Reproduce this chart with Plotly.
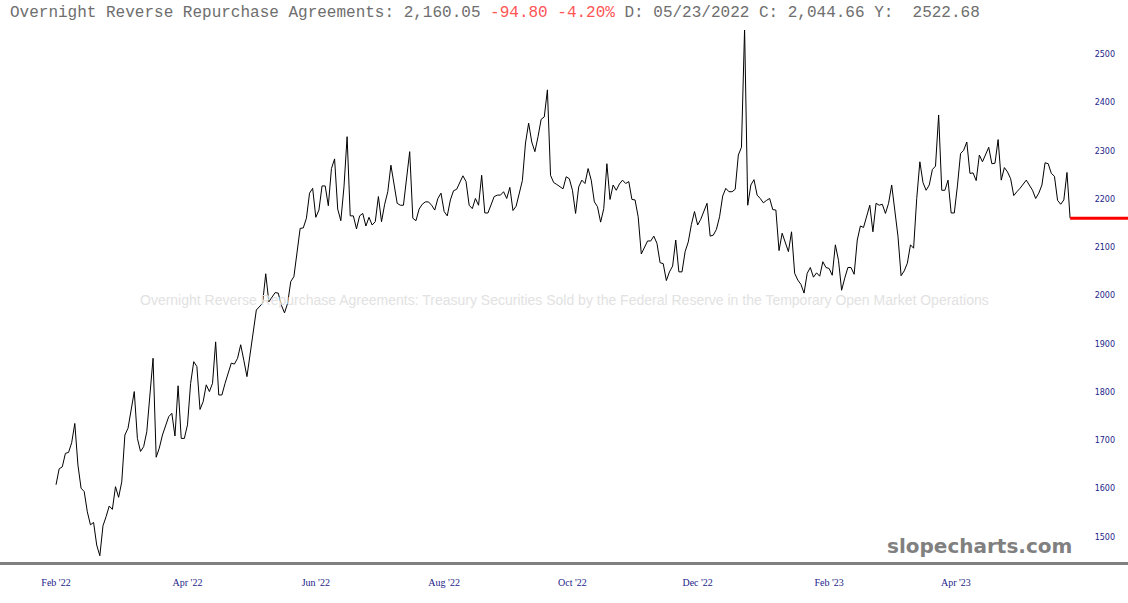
import plotly.graph_objects as go

# ---------------- data ----------------
dates = [
    "2022-02-15","2022-02-16","2022-02-17","2022-02-18","2022-02-22","2022-02-23","2022-02-24","2022-02-25","2022-02-28",
    "2022-03-01","2022-03-02","2022-03-03","2022-03-04","2022-03-07","2022-03-08","2022-03-09","2022-03-10","2022-03-11",
    "2022-03-14","2022-03-15","2022-03-16","2022-03-17","2022-03-18","2022-03-21","2022-03-23","2022-03-24","2022-03-25",
    "2022-03-28","2022-03-29","2022-03-31",
    "2022-04-01","2022-04-04","2022-04-05","2022-04-06","2022-04-07","2022-04-08","2022-04-11","2022-04-12","2022-04-13",
    "2022-04-14","2022-04-18","2022-04-19","2022-04-20","2022-04-21","2022-04-22","2022-04-25","2022-04-26","2022-04-27",
    "2022-04-28","2022-04-29",
    "2022-05-02","2022-05-03","2022-05-04","2022-05-06","2022-05-09","2022-05-10","2022-05-11","2022-05-12","2022-05-13",
    "2022-05-18","2022-05-20","2022-05-23","2022-05-24","2022-05-26","2022-05-27","2022-05-31",
    "2022-06-01","2022-06-02","2022-06-03","2022-06-06","2022-06-08","2022-06-09","2022-06-10","2022-06-13","2022-06-14",
    "2022-06-15","2022-06-16","2022-06-17","2022-06-21","2022-06-22","2022-06-23","2022-06-24","2022-06-27","2022-06-28",
    "2022-06-29","2022-06-30",
    "2022-07-01","2022-07-05","2022-07-06","2022-07-07","2022-07-08","2022-07-11","2022-07-12","2022-07-13","2022-07-14",
    "2022-07-15","2022-07-18","2022-07-19","2022-07-20","2022-07-21","2022-07-25","2022-07-26","2022-07-27","2022-07-29",
    "2022-08-01","2022-08-02","2022-08-03","2022-08-04","2022-08-05","2022-08-08","2022-08-09","2022-08-10","2022-08-11",
    "2022-08-12","2022-08-15","2022-08-16","2022-08-17","2022-08-18","2022-08-19","2022-08-23","2022-08-24","2022-08-25",
    "2022-08-26","2022-08-29","2022-08-30","2022-08-31",
    "2022-09-01","2022-09-02","2022-09-07","2022-09-08","2022-09-09","2022-09-12","2022-09-13","2022-09-14","2022-09-15",
    "2022-09-16","2022-09-20","2022-09-21","2022-09-22","2022-09-23","2022-09-26","2022-09-27","2022-09-28","2022-09-29",
    "2022-09-30",
    "2022-10-03","2022-10-04","2022-10-05","2022-10-06","2022-10-07","2022-10-10","2022-10-11","2022-10-12","2022-10-13",
    "2022-10-14","2022-10-17","2022-10-18","2022-10-19","2022-10-20","2022-10-21","2022-10-24","2022-10-25","2022-10-26",
    "2022-10-27","2022-10-28","2022-10-31",
    "2022-11-01","2022-11-02","2022-11-03","2022-11-04","2022-11-07","2022-11-08","2022-11-09","2022-11-10","2022-11-11",
    "2022-11-14","2022-11-15","2022-11-16","2022-11-17","2022-11-18","2022-11-21","2022-11-22","2022-11-23","2022-11-25",
    "2022-11-28","2022-11-29","2022-11-30",
    "2022-12-01","2022-12-02","2022-12-05","2022-12-06","2022-12-07","2022-12-08","2022-12-09","2022-12-12","2022-12-13",
    "2022-12-14","2022-12-15","2022-12-16","2022-12-19","2022-12-20","2022-12-21","2022-12-22","2022-12-23","2022-12-27",
    "2022-12-28","2022-12-29","2022-12-30",
    "2023-01-03","2023-01-04","2023-01-05","2023-01-06","2023-01-09","2023-01-10","2023-01-11","2023-01-12","2023-01-13",
    "2023-01-17","2023-01-18","2023-01-19","2023-01-23","2023-01-24","2023-01-25","2023-01-26","2023-01-27","2023-01-30",
    "2023-01-31",
    "2023-02-01","2023-02-02","2023-02-03","2023-02-06","2023-02-07","2023-02-08","2023-02-09","2023-02-10","2023-02-13",
    "2023-02-14","2023-02-15","2023-02-16","2023-02-17","2023-02-21","2023-02-22","2023-02-23","2023-02-24","2023-02-27",
    "2023-02-28",
    "2023-03-01","2023-03-02","2023-03-03","2023-03-06","2023-03-07","2023-03-08","2023-03-09","2023-03-10","2023-03-13",
    "2023-03-14","2023-03-15","2023-03-16","2023-03-17","2023-03-20","2023-03-21","2023-03-22","2023-03-23","2023-03-24",
    "2023-03-27","2023-03-28","2023-03-29","2023-03-30","2023-03-31",
    "2023-04-03","2023-04-04","2023-04-05","2023-04-06","2023-04-10","2023-04-11","2023-04-12","2023-04-13","2023-04-14",
    "2023-04-17","2023-04-18","2023-04-19","2023-04-20","2023-04-21","2023-04-25","2023-04-26","2023-04-27","2023-04-28",
    "2023-05-01","2023-05-02","2023-05-03","2023-05-04","2023-05-05","2023-05-08","2023-05-09","2023-05-11","2023-05-12",
    "2023-05-15","2023-05-16","2023-05-17","2023-05-18","2023-05-19","2023-05-22","2023-05-23","2023-05-24","2023-05-25",
    "2023-05-26","2023-05-30","2023-05-31","2023-06-01",
]

values = [
    1608,1641,1645,1673,1675,1695,1735,1649,1601,
    1594,1552,1525,1530,1483,1461,1523,1542,1564,
    1557,1604,1582,1614,1711,1725,1801,1704,1677,
    1687,1718,1870,
    1665,1684,1711,1731,1749,1756,1709,1813,1704,
    1704,1732,1818,1863,1853,1764,1780,1815,1801,
    1818,1904,
    1794,1794,1818,1860,1858,1870,1898,1866,1832,
    1970,1984,2045,1987,2006,2005,1980,
    1964,1984,2029,2039,2139,2140,2160,2212,2222,
    2162,2177,2227,2227,2186,2263,2283,2179,2155,
    2225,2329,
    2165,2165,2138,2165,2170,2144,2162,2146,2153,
    2205,2153,2189,2215,2270,2191,2187,2187,2298,
    2160,2155,2179,2189,2194,2194,2187,2177,2201,
    2212,2174,2165,2198,2217,2220,2248,2236,2187,
    2180,2201,2187,2249,
    2171,2171,2205,2208,2208,2215,2201,2224,2176,
    2185,2238,2316,2357,2318,2298,2329,2365,2370,
    2426,
    2249,2234,2230,2225,2221,2246,2242,2218,2170,
    2225,2239,2232,2263,2239,2194,2184,2152,2180,
    2273,2199,2229,
    2218,2231,2239,2232,2236,2199,2198,2163,2086,
    2100,2113,2113,2123,2108,2068,2066,2031,2049,
    2061,2115,2049,
    2049,2091,2111,2147,2174,2146,2158,2174,2191,
    2123,2125,2137,2163,2206,2222,2215,2215,2220,
    2291,2307,2554,
    2187,2229,2240,2208,2201,2192,2197,2201,2178,
    2177,2093,2129,2091,2132,2046,2032,2023,2005,
    2046,
    2058,2038,2047,2040,2070,2058,2056,2042,2105,
    2073,2011,2036,2058,2058,2044,2115,2144,2141,
    2162,
    2187,2132,2191,2187,2189,2170,2191,2229,2174,
    2123,2041,2051,2067,2105,2098,2201,2277,2234,
    2218,2229,2261,2268,2374,
    2218,2218,2239,2171,2171,2227,2294,2301,2318,
    2253,2254,2238,2291,2277,2307,2273,2274,2323,
    2239,2265,2256,2242,2207,2215,2222,2239,2227,
    2218,2201,2212,2229,2275,2273,2253,2247,2197,
    2189,2198,2254.85,2160.05,
]

# market holidays (no observations, removed from the time axis)
holidays = [
    "2022-02-21","2022-04-15","2022-05-30","2022-06-20","2022-07-04","2022-09-05",
    "2022-11-24","2022-12-26","2023-01-02","2023-01-16","2023-02-20","2023-04-07",
    "2023-05-29","2023-06-19",
]

tick_dates = ["2022-02-15","2022-04-18","2022-06-15","2022-08-15","2022-10-12",
              "2022-12-08","2023-02-09","2023-04-10 12:00"]
tick_labels = ["Feb '22","Apr '22","Jun '22","Aug '22","Oct '22","Dec '22","Feb '23","Apr '23"]

y_ticks = [1500,1600,1700,1800,1900,2000,2100,2200,2300,2400,2500]

x_range = ["2022-01-20 02:24", "2023-06-28 12:00"]
y_range = [1448, 2550]

series_name = "Overnight Reverse Repurchase Agreements"
subtitle = ("Overnight Reverse Repurchase Agreements: Treasury Securities Sold by the Federal Reserve "
            "in the Temporary Open Market Operations")
cursor_date = "05/23/2022"
cursor_value = "2,044.66"
cursor_y = "2522.68"

# ---------------- figure ----------------
last = values[-1]
chg = values[-1] - values[-2]
pct = chg / values[-2] * 100

fig = go.Figure()
fig.add_trace(go.Scatter(
    x=dates, y=values, mode="lines",
    line=dict(color="#000000", width=1), hoverinfo="x+y", showlegend=False,
))
fig.add_trace(go.Scatter(
    x=[dates[-1], x_range[1]], y=[last, last], mode="lines",
    line=dict(color="#ff0000", width=3), hoverinfo="skip", showlegend=False,
))

title_html = (
    f"{series_name}: {last:,.2f} "
    f"<span style='color:#ff5555'>{chg:,.2f} {pct:.2f}%</span> "
    f"D: {cursor_date} C: {cursor_value} Y:&nbsp; {cursor_y}"
)

fig.update_layout(
    width=1128, height=603,
    margin=dict(l=0, r=0, t=30, b=41),
    paper_bgcolor="#ffffff", plot_bgcolor="#ffffff",
    showlegend=False,
    xaxis=dict(
        type="date", range=x_range,
        rangebreaks=[dict(bounds=["sat", "mon"]), dict(values=holidays)],
        tickmode="array", tickvals=tick_dates, ticktext=tick_labels,
        tickfont=dict(family="Liberation Serif, Times New Roman, serif", size=10, color="#1c1c8a"),
        ticks="outside", ticklen=9, tickcolor="rgba(0,0,0,0)",
        showgrid=False, zeroline=False,
        showline=True, linecolor="#808080", linewidth=3,
    ),
    yaxis=dict(
        range=y_range, side="right", ticklabelposition="inside",
        tickmode="array", tickvals=y_ticks, ticktext=[str(v) for v in y_ticks],
        tickfont=dict(family="DejaVu Sans, Verdana, sans-serif", size=8, color="#1c1c8a"),
        ticks="", ticklabelstandoff=10,
        showgrid=False, zeroline=False, showline=False,
    ),
    annotations=[
        dict(text=title_html, xref="paper", yref="paper", x=0, y=1,
             xanchor="left", yanchor="bottom", xshift=8, yshift=6, showarrow=False,
             font=dict(family="Courier New, Liberation Mono, monospace", size=16, color="#6e6e6e")),
        dict(text=subtitle, xref="paper", yref="paper", x=0.5, y=0.4925,
             xanchor="center", yanchor="middle", showarrow=False,
             font=dict(family="Liberation Sans, Arial, sans-serif", size=14, color="#e2e2e2")),
        dict(text="<b>slopecharts.com</b>", xref="paper", yref="paper", x=1, y=0,
             xanchor="right", yanchor="middle", xshift=-54, yshift=16, showarrow=False,
             font=dict(family="DejaVu Sans, Verdana, sans-serif", size=20, color="#808080")),
    ],
)

fig.write_html("out.html", config={"displayModeBar": False},
               post_script="document.body.style.margin='0';")
